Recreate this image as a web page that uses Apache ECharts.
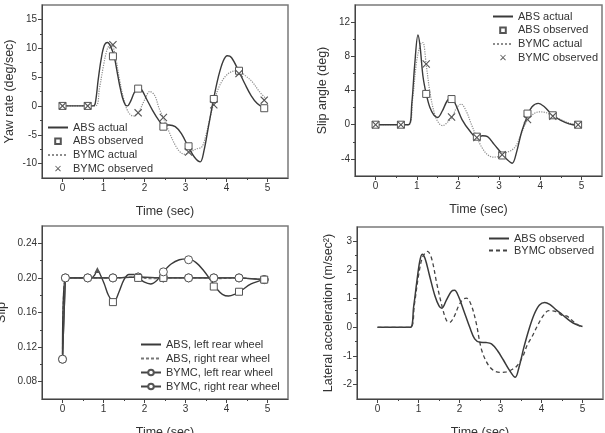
<!DOCTYPE html>
<html>
<head>
<meta charset="utf-8">
<script src="https://cdn.jsdelivr.net/npm/echarts@6/dist/echarts.min.js"></script>
<style>
html, body { margin: 0; padding: 0; background: #fff; }
#content { width: 605px; height: 433px; }
</style>
</head>
<body>
<div id="content"></div>
<script>
// sample times of the "observed" points (same in every panel)
var obsT = [0, 0.615, 1.23, 1.845, 2.46, 3.075, 3.69, 4.305, 4.92];

// panel 1: yaw rate
var yawAbsT = [0, 0.75, 0.8, 0.87, 0.94, 1.02, 1.1, 1.18, 1.26, 1.33, 1.39, 1.46, 1.53, 1.58, 1.66, 1.75, 1.85, 1.93, 2.05, 2.2, 2.35, 2.45, 2.6, 2.75, 2.9, 3.07, 3.22, 3.36, 3.45, 3.56, 3.68, 3.8, 3.92, 4.02, 4.12, 4.3, 4.45, 4.6, 4.75, 4.92];
var yawAbs = [0, 0, 0.5, 4.5, 8, 10.5, 11, 10.2, 8.6, 6, 3.7, 1.5, 0.2, 0, 0.8, 2.3, 3.2, 2.8, 1.2, -0.8, -2.5, -3.3, -3.3, -3.6, -4.8, -7.1, -8.9, -9.7, -7.8, -3.6, 1.0, 5, 7.8, 8.7, 8.4, 6.0, 3.8, 1.8, 0.4, -0.4];
var yawBymcT = [0, 0.8, 0.9, 1.0, 1.1, 1.19, 1.28, 1.38, 1.5, 1.6, 1.72, 1.85, 2.0, 2.13, 2.25, 2.35, 2.46, 2.6, 2.75, 2.87, 2.99, 3.1, 3.25, 3.4, 3.5, 3.6, 3.68, 3.8, 3.97, 4.15, 4.3, 4.45, 4.62, 4.8, 4.95];
var yawBymc = [0, 0, 3, 7, 10, 10.7, 9, 5, 1, -1.0, -1.75, -1.1, 1.0, 2.5, 1.8, -0.3, -2.1, -4.5, -6.8, -8, -8.4, -8.1, -7.5, -7.1, -5, -2, 0.2, 3, 5.1, 6, 6.1, 5.3, 4.25, 2.5, 1.35];
var yawAbsObs = [0, 0, 8.6, 3.0, -3.6, -7.0, 1.2, 6.1, -0.4];
var yawBymcObs = [0, 0, 10.6, -1.2, -2.0, -8.0, 0.2, 5.6, 1.0];

// panel 2: slip angle
var angAbsT = [0, 0.8, 0.88, 0.95, 1.03, 1.08, 1.15, 1.23, 1.32, 1.42, 1.51, 1.62, 1.74, 1.84, 1.95, 2.1, 2.3, 2.46, 2.6, 2.72, 2.88, 3.07, 3.2, 3.32, 3.42, 3.55, 3.69, 3.8, 3.95, 4.1, 4.3, 4.5, 4.7, 4.92];
var angAbs = [0, 0, 2.5, 7, 10.5, 9.2, 5.7, 3.6, 2, 1.1, 0.85, 1.6, 2.8, 3.2, 2.3, 0.6, -0.8, -1.5, -1.3, -1.4, -2.3, -3.4, -4.1, -4.5, -3.3, -0.8, 1.05, 2.1, 2.5, 2.1, 1.1, 0.5, 0.1, -0.1];
var angBymcT = [0, 0.8, 0.9, 1.0, 1.1, 1.15, 1.23, 1.33, 1.45, 1.55, 1.63, 1.75, 1.86, 1.97, 2.08, 2.2, 2.33, 2.46, 2.6, 2.72, 2.85, 3.0, 3.075, 3.2, 3.3, 3.42, 3.55, 3.69, 3.82, 3.97, 4.15, 4.3, 4.5, 4.7, 4.92];
var angBymc = [0, 0, 3, 7.5, 9.5, 9.6, 7.0, 3.5, 1.0, 0.1, -0.1, 0.3, 0.9, 2.0, 2.4, 1.6, 0.0, -1.5, -2.8, -3.5, -3.8, -3.7, -3.5, -3.2, -3.0, -2.4, -0.9, 0.5, 1.2, 1.5, 1.4, 1.0, 0.6, 0.2, 0];
var angAbsObs = [0, 0, 3.6, 3.0, -1.4, -3.6, 1.3, 1.1, 0];
var angBymcObs = [0, 0, 7.1, 0.9, -1.5, -3.5, 0.6, 1.0, 0];

// panel 3: slip
var slipLeftT = [0, 0.07, 0.7, 0.78, 0.85, 0.92, 1.02, 1.12, 1.25, 1.38, 1.5, 1.62, 1.75, 1.87, 2.0, 2.15, 2.3, 2.46, 2.65, 2.85, 3.05, 3.25, 3.45, 3.62, 3.75, 3.9, 4.05, 4.2, 4.35, 4.6, 4.92];
var slipLeft = [0.106, 0.2, 0.2, 0.203, 0.209, 0.204, 0.193, 0.18, 0.172, 0.184, 0.198, 0.204, 0.204, 0.2, 0.195, 0.193, 0.197, 0.207, 0.216, 0.221, 0.222, 0.218, 0.208, 0.197, 0.188, 0.181, 0.179, 0.181, 0.185, 0.193, 0.198];
var slipRightT = [0, 0.07, 1.0, 1.23, 1.6, 2.2, 2.46, 3.4, 3.69, 4.3, 4.92];
var slipRight = [0.106, 0.2, 0.2, 0.199, 0.201, 0.199, 0.2, 0.2, 0.199, 0.2, 0.198];
var slipFlatT = [0, 0.07, 0.615, 1.23, 1.845, 2.46, 3.075, 3.69, 4.305, 4.92];
var slipFlat = [0.106, 0.2, 0.2, 0.2, 0.201, 0.2, 0.2, 0.2, 0.2, 0.198];
var slipSqT = [1.23, 1.845, 2.46, 3.69, 4.305, 4.92];
var slipSq = [0.172, 0.2, 0.2, 0.19, 0.184, 0.198];
var slipCirT = [2.46, 3.075];
var slipCir = [0.207, 0.221];

// panel 4: lateral acceleration
var accAbsT = [0, 0.8, 0.88, 0.96, 1.03, 1.09, 1.16, 1.27, 1.4, 1.5, 1.57, 1.68, 1.8, 1.88, 1.97, 2.1, 2.25, 2.37, 2.5, 2.65, 2.78, 2.92, 3.07, 3.22, 3.36, 3.45, 3.57, 3.69, 3.82, 3.95, 4.08, 4.2, 4.35, 4.51, 4.7, 4.85, 5.0];
var accAbs = [0, 0, 0.7, 1.6, 2.3, 2.55, 2.4, 1.8, 1.1, 0.75, 0.67, 0.95, 1.25, 1.29, 1.1, 0.6, 0.0, -0.4, -0.52, -0.53, -0.58, -0.8, -1.14, -1.5, -1.74, -1.4, -0.7, -0.09, 0.45, 0.78, 0.87, 0.8, 0.62, 0.44, 0.22, 0.1, 0.03];
var accBymcT = [0, 0.8, 0.9, 1.0, 1.1, 1.22, 1.32, 1.45, 1.58, 1.68, 1.76, 1.86, 1.98, 2.08, 2.17, 2.28, 2.4, 2.54, 2.7, 2.85, 3.0, 3.15, 3.28, 3.4, 3.55, 3.65, 3.77, 3.9, 4.03, 4.18, 4.35, 4.5, 4.62, 4.8, 5.0];
var accBymc = [0, 0, 0.8, 1.8, 2.45, 2.65, 2.4, 1.5, 0.7, 0.25, 0.17, 0.35, 0.75, 0.97, 1.02, 0.8, 0.2, -0.79, -1.31, -1.52, -1.57, -1.55, -1.47, -1.35, -1.0, -0.62, -0.32, 0.05, 0.38, 0.58, 0.55, 0.42, 0.39, 0.18, -0.02];

// tick labels
var timeTicks = [0, 1, 2, 3, 4, 5];
var timeMinor = [0.5, 1.5, 2.5, 3.5, 4.5];
var yawTicks = [-10, -5, 0, 5, 10, 15];
var yawMinor = [-7.5, -2.5, 2.5, 7.5, 12.5];
var angTicks = [-4, 0, 4, 8, 12];
var angMinor = [-2, 2, 6, 10];
var slipTicks = [0.08, 0.12, 0.16, 0.2, 0.24];
var slipMinor = [0.1, 0.14, 0.18, 0.22];
var accTicks = [-2, -1, 0, 1, 2, 3];
var accMinor = [-1.5, -0.5, 0.5, 1.5, 2.5];

!(function () {
    var myChart = echarts.init(document.getElementById('content'));
    var font = 'Liberation Sans, Arial, sans-serif';
    var ink = '#333';
    var crossPath = 'path://M0,1L1,0L5,4L9,0L10,1L6,5L10,9L9,10L5,6L1,10L0,9L4,5Z';

    function pairs(t, v) {
        var out = [];
        for (var i = 0; i < t.length; i++) out.push([t[i], v[i]]);
        return out;
    }

    function mainAxis(gi, min, max, ticks, name, gap, fmt) {
        return {
            type: 'value', gridIndex: gi, min: min, max: max,
            name: name, nameLocation: 'middle', nameGap: gap, nameMoveOverlap: false,
            nameTextStyle: { fontFamily: font, fontSize: 12.5, color: ink },
            axisLine: { show: true, onZero: false, lineStyle: { color: '#444', width: 1 } },
            axisTick: { show: true, customValues: ticks, length: 4, lineStyle: { color: '#444' } },
            axisLabel: { customValues: ticks, margin: 5, fontFamily: font, fontSize: 10, color: ink, formatter: fmt },
            splitLine: { show: false }
        };
    }

    function minorAxis(gi, min, max, ticks, pos) {
        return {
            type: 'value', gridIndex: gi, min: min, max: max, position: pos,
            axisLine: { show: false, onZero: false },
            axisTick: { show: true, customValues: ticks, length: 2, lineStyle: { color: '#444' } },
            axisLabel: { show: false },
            splitLine: { show: false }
        };
    }

    function solid(name, xi, data, color, type, width) {
        return {
            name: name, type: 'line', xAxisIndex: xi, yAxisIndex: xi, data: data,
            smooth: 0.35, symbol: 'none', z: 3,
            lineStyle: { color: color, width: width || 1.4, type: type || 'solid' },
            itemStyle: { color: color }
        };
    }

    function marks(name, xi, data, symbol, size, filled) {
        return {
            name: name, type: 'line', xAxisIndex: xi, yAxisIndex: xi, data: data,
            symbol: symbol, symbolSize: size, showSymbol: true, z: 5,
            lineStyle: { opacity: 0 },
            itemStyle: filled ? { color: '#555' } : { color: '#fff', borderColor: '#555', borderWidth: 1 }
        };
    }

    // legend entries: plain line icons hide the default circle
    function lineOnly(name) {
        return { name: name, itemStyle: { opacity: 0 } };
    }

    function legend(items, left, top, gap) {
        return {
            data: items, orient: 'vertical', left: left, top: top,
            itemWidth: 20, itemHeight: 7, itemGap: gap, padding: 0,
            textStyle: { fontFamily: font, fontSize: 11, color: ink },
            formatter: function (n) { return n.split('#')[0]; }
        };
    }

    var fmtInt = function (v) { return String(v); };
    var fmt2 = function (v) { return v.toFixed(2); };
    var frame = { show: true, borderColor: '#7a7a7a', borderWidth: 1.5, backgroundColor: '#fff', outerBoundsMode: 'none', containLabel: false };

    var option = {
        animation: false,
        backgroundColor: '#fff',
        grid: [
            Object.assign({ left: 42, top: 5, width: 246, height: 173 }, frame),
            Object.assign({ left: 355, top: 5, width: 247, height: 171 }, frame),
            Object.assign({ left: 42, top: 226, width: 246, height: 173 }, frame),
            Object.assign({ left: 357, top: 227, width: 246, height: 172 }, frame)
        ],
        xAxis: [
            mainAxis(0, -0.5, 5.5, timeTicks, 'Time (sec)', 27, fmtInt),
            mainAxis(1, -0.5, 5.5, timeTicks, 'Time (sec)', 27, fmtInt),
            mainAxis(2, -0.5, 5.5, timeTicks, 'Time (sec)', 27, fmtInt),
            mainAxis(3, -0.5, 5.5, timeTicks, 'Time (sec)', 27, fmtInt),
            minorAxis(0, -0.5, 5.5, timeMinor, 'bottom'),
            minorAxis(1, -0.5, 5.5, timeMinor, 'bottom'),
            minorAxis(2, -0.5, 5.5, timeMinor, 'bottom'),
            minorAxis(3, -0.5, 5.5, timeMinor, 'bottom')
        ],
        yAxis: [
            mainAxis(0, -12.5, 17.5, yawTicks, 'Yaw rate (deg/sec)', 26, fmtInt),
            mainAxis(1, -6, 14, angTicks, 'Slip angle (deg)', 26, fmtInt),
            mainAxis(2, 0.06, 0.26, slipTicks, 'Slip', 34, fmt2),
            mainAxis(3, -2.5, 3.5, accTicks, 'Lateral acceleration (m/sec\u00b2)', 22, fmtInt),
            minorAxis(0, -12.5, 17.5, yawMinor, 'left'),
            minorAxis(1, -6, 14, angMinor, 'left'),
            minorAxis(2, 0.06, 0.26, slipMinor, 'left'),
            minorAxis(3, -2.5, 3.5, accMinor, 'left')
        ],
        legend: [
            legend([lineOnly('ABS actual'), 'ABS observed', lineOnly('BYMC actual'), 'BYMC observed'], 47, 122, 2.7),
            legend([lineOnly('ABS actual#2'), 'ABS observed#2', lineOnly('BYMC actual#2'), 'BYMC observed#2'], 492, 11, 2.7),
            legend([lineOnly('ABS, left rear wheel'), lineOnly('ABS, right rear wheel'), 'BYMC, left rear wheel', 'BYMC, right rear wheel'], 140, 339, 3),
            legend([lineOnly('ABS observed#4'), lineOnly('BYMC observed#4')], 488, 233, 1)
        ],
        series: [
            solid('BYMC actual', 0, pairs(yawBymcT, yawBymc), '#8c8c8c', 'dotted', 1.2),
            solid('ABS actual', 0, pairs(yawAbsT, yawAbs), '#3a3a3a'),
            marks('ABS observed', 0, pairs(obsT, yawAbsObs), 'rect', 7, false),
            marks('BYMC observed', 0, pairs(obsT, yawBymcObs), crossPath, 8, true),

            solid('BYMC actual#2', 1, pairs(angBymcT, angBymc), '#8c8c8c', 'dotted', 1.2),
            solid('ABS actual#2', 1, pairs(angAbsT, angAbs), '#3a3a3a'),
            marks('ABS observed#2', 1, pairs(obsT, angAbsObs), 'rect', 7, false),
            marks('BYMC observed#2', 1, pairs(obsT, angBymcObs), crossPath, 8, true),

            solid('ABS, right rear wheel', 2, pairs(slipRightT, slipRight), '#777', [3, 2], 1.2),
            solid('ABS, left rear wheel', 2, pairs(slipLeftT, slipLeft), '#3a3a3a'),
            {
                name: 'BYMC, left rear wheel', type: 'line', xAxisIndex: 2, yAxisIndex: 2,
                data: pairs(slipFlatT, slipFlat), symbol: 'circle', symbolSize: 8, z: 4,
                lineStyle: { color: '#444', width: 1.3 },
                itemStyle: { color: '#fff', borderColor: '#555', borderWidth: 1 }
            },
            {
                name: 'BYMC, right rear wheel', type: 'line', xAxisIndex: 2, yAxisIndex: 2,
                data: pairs(slipFlatT, slipFlat), symbol: 'circle', symbolSize: 8, z: 4,
                lineStyle: { color: '#444', width: 1.3 },
                itemStyle: { color: '#fff', borderColor: '#555', borderWidth: 1 }
            },
            marks('ABS left points', 2, pairs(slipSqT, slipSq), 'rect', 7, false),
            marks('BYMC points', 2, pairs(slipCirT, slipCir), 'circle', 8, false),
            marks('peak', 2, [[0.85, 0.209]], 'triangle', 6, true),

            solid('ABS observed#4', 3, pairs(accAbsT, accAbs), '#3a3a3a', 'solid', 1.5),
            solid('BYMC observed#4', 3, pairs(accBymcT, accBymc), '#444', [4, 3], 1.3)
        ]
    };
    myChart.setOption(option);
})();
</script>
</body>
</html>
